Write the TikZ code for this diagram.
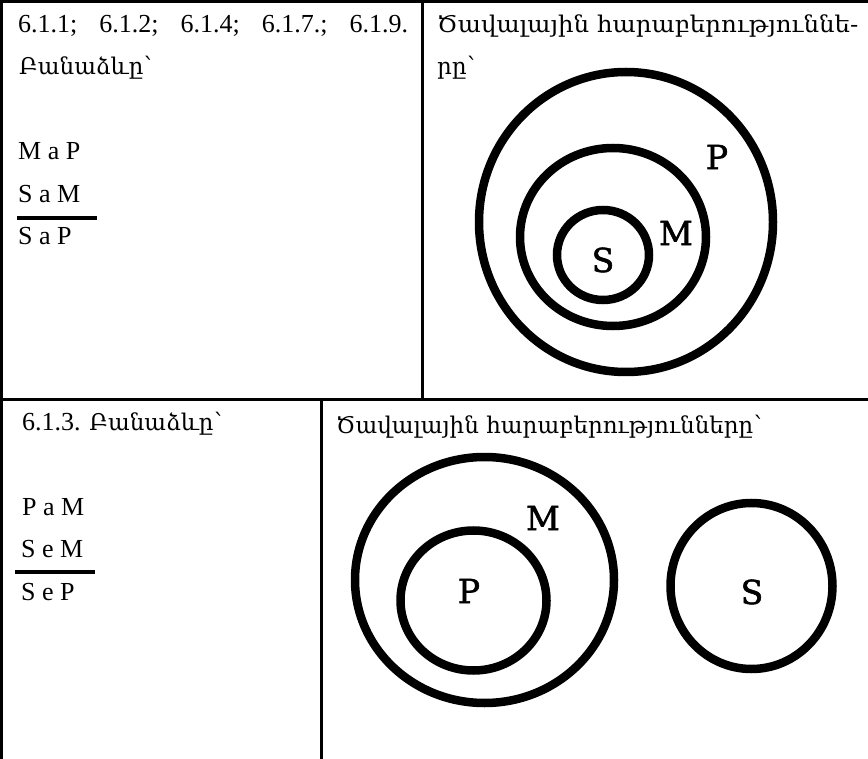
\documentclass[tikz,border=0pt]{standalone}
\usepackage{fontspec}
\setmainfont{Liberation Serif}
\newfontfamily\armfont{DejaVu Serif}
\newfontfamily\lblfont[FakeBold=1.6]{DejaVu Serif}
\begin{document}
\begin{tikzpicture}[x=1pt,y=-1pt,
  rule/.style={line width=3pt},
  ring/.style={line width=8.5pt},
  bar/.style={line width=4.5pt},
  numtxt/.style={anchor=base west, inner sep=0pt, font=\fontsize{26}{30}\selectfont},
  frm/.style={anchor=base west, inner sep=0pt, font=\fontsize{26}{30}\selectfont},
  arm/.style={anchor=base west, inner sep=0pt, font=\fontsize{26}{30}\selectfont},
  lbl/.style={inner sep=0pt, font=\lblfont\fontsize{33}{40}\selectfont}]
\useasboundingbox (0,0) rectangle (868,759);
\fill[white] (0,0) rectangle (868,759);
% table rules
\draw[rule] (0,1.5) -- (868,1.5);
\draw[rule] (1.5,0) -- (1.5,759);
\draw[rule] (422,0) -- (422,400);
\draw[rule] (0,400) -- (868,400);
\draw[rule] (321,400) -- (321,759);
% top left cell
\node[numtxt] (h1) at (18,33) {\makebox[390pt][s]{6.1.1; 6.1.2; 6.1.4; 6.1.7.; 6.1.9.}};
\node[arm] (h2) at (19,75) {\armfont\fontsize{23}{30}\selectfont Բանաձևը՝};
\node[frm] (f1) at (18,160) {M a P};
\node[frm] (f2) at (18,203) {S a M};
\draw[bar] (17,218) -- (97,218);
\node[frm] (f3) at (18,245) {S a P};
% top right cell
\node[arm] (h3) at (437,33) {\armfont\fontsize{23}{30}\selectfont\scalebox{1.065}[1]{Ծավալային հարաբերություննե-}};
\node[arm] (h4) at (437,75) {\armfont\fontsize{23}{30}\selectfont րը՝};
\draw[ring] (626,222) ellipse [x radius=147pt, y radius=150pt];
\draw[ring] (613,237) ellipse [x radius=93pt, y radius=89pt];
\draw[ring] (603,255) ellipse [x radius=46pt, y radius=45pt];
\node[lbl] (P1) at (717,157) {P};
\node[lbl] (M1) at (676,233) {M};
\node[lbl] (S1) at (603,260) {S};
% bottom left cell
\node[arm] (h5) at (22,431) {6.1.3. \armfont\fontsize{23}{30}\selectfont Բանաձևը՝};
\node[frm] (g1) at (22,515) {P a M};
\node[frm] (g2) at (21,557) {S e M};
\draw[bar] (15,572) -- (95,572);
\node[frm] (g3) at (21,600) {S e P};
% bottom right cell
\node[arm] (h6) at (336,433) {\armfont\fontsize{23}{30}\selectfont Ծավալային հարաբերությունները՝};
\draw[ring] (484.5,580) ellipse [x radius=129.5pt, y radius=123pt];
\draw[ring] (473.5,600.5) ellipse [x radius=73pt, y radius=70pt];
\draw[ring] (751.5,586) ellipse [x radius=81pt, y radius=83pt];
\node[lbl] (M2) at (543,518) {M};
\node[lbl] (P2) at (469,591) {P};
\node[lbl] (S2) at (752,592) {S};
\end{tikzpicture}
\end{document}
